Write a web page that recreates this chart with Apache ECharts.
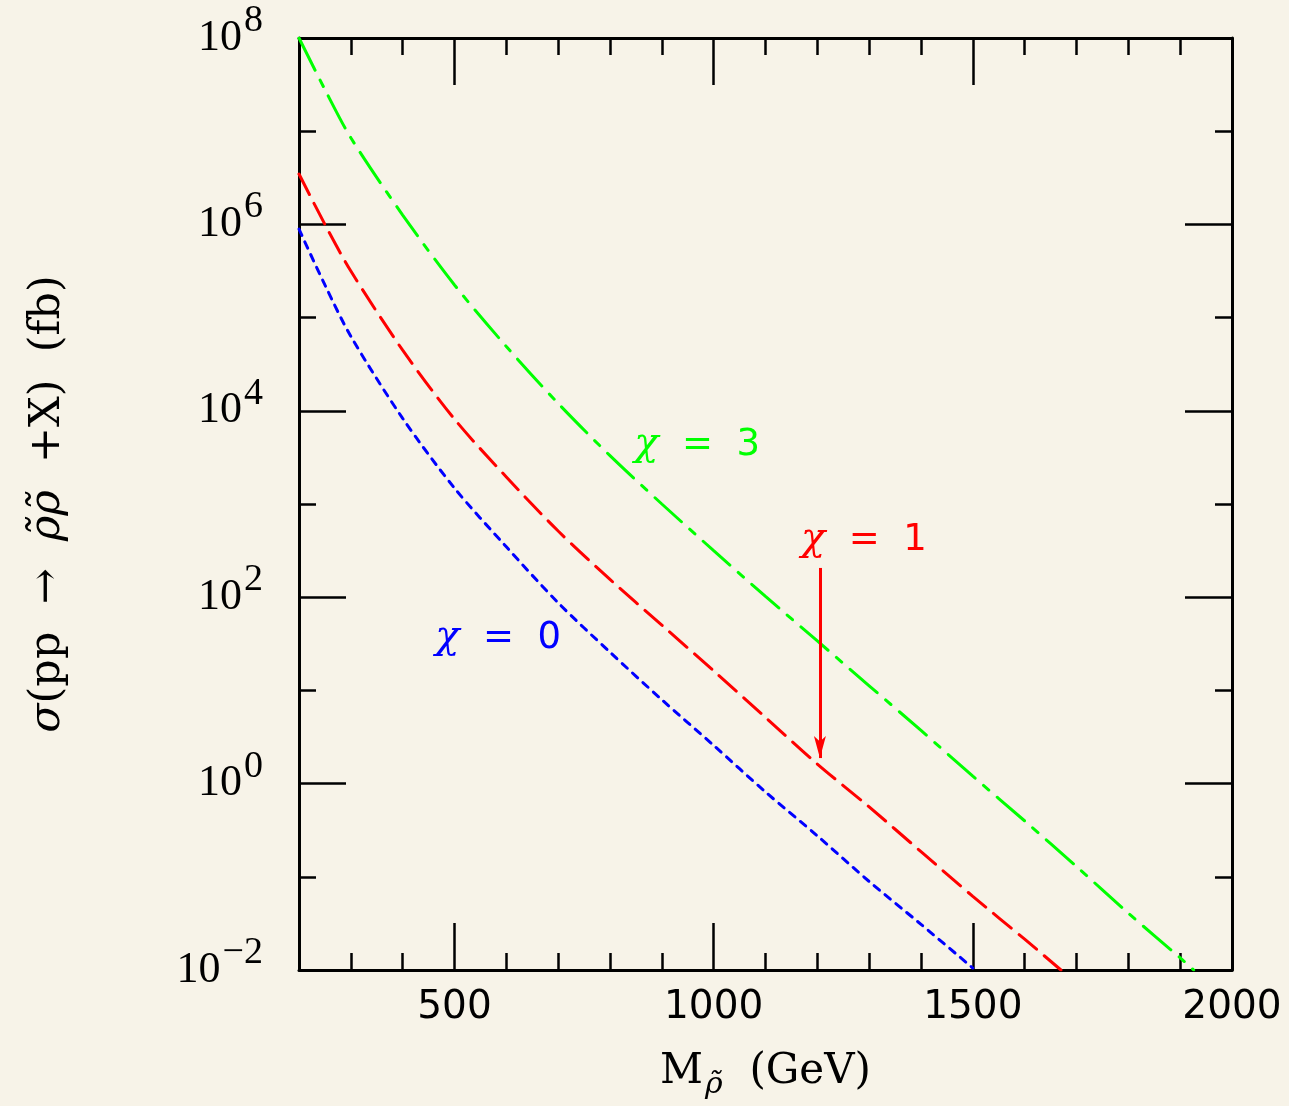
<!DOCTYPE html>
<html>
<head>
<meta charset="utf-8">
<script src="https://cdn.jsdelivr.net/npm/echarts@6/dist/echarts.min.js"></script>
<style>
html,body{margin:0;padding:0;background:#f7f3e8;}
#chart{width:1289px;height:1106px;}
</style>
</head>
<body>
<div id="chart"></div>
<script>
// ---- data (M in GeV, sigma in fb) ----
const massChi3 = [200, 250, 300, 400, 500, 600, 700, 800, 900, 1000, 1100, 1200, 1300, 1400, 1500, 1600, 1700, 1800, 1900, 1926];
const sigmaChi3 = [1.0e8, 2.8e7, 8.5e6, 1.26e6, 2.24e5, 4.9e4, 1.2e4, 3.3e3, 1.0e3, 316, 102, 33.9, 11.2, 3.72, 1.20, 0.398, 0.129, 0.0407, 0.0135, 0.0100];

const massChi1 = [200, 250, 300, 400, 500, 600, 700, 800, 900, 1000, 1100, 1200, 1300, 1400, 1500, 1600, 1670];
const sigmaChi1 = [3.47e6, 1.0e6, 3.16e5, 4.47e4, 8.13e3, 1.95e3, 513, 155, 50.1, 16.2, 5.13, 1.62, 0.562, 0.186, 0.0617, 0.0214, 0.0100];

const massChi0 = [200, 250, 300, 400, 500, 600, 700, 800, 900, 1000, 1100, 1200, 1300, 1400, 1500];
const sigmaChi0 = [8.9e5, 2.24e5, 6.3e4, 8.3e3, 1.48e3, 347, 87.1, 25.7, 7.94, 2.57, 0.813, 0.275, 0.0891, 0.0309, 0.0105];

const xMajorTicks = [500, 1000, 1500, 2000];
const curveChi = ['3', '1', '0'];
const labelAnchors = [[968, 4300], [1290, 411], [584, 36.5]];
const arrowFrom = [1205, 206];
const arrowTo = [1205, 1.88];

function pairs(xs, ys) { return xs.map((x, i) => [x, ys[i]]); }

const INK = '#000';
const GREEN = '#00ff00', RED = '#ff0000', BLUE = '#0000ff';

const xBase = {type: 'value', min: 200, max: 2000, splitLine: {show: false}, gridIndex: 0};
const yBase = {type: 'log', logBase: 10, min: 0.01, max: 1e8, splitLine: {show: false}, gridIndex: 0};

function expLabel(v) {
  const e = Math.round(Math.log10(v));
  const s = e < 0 ? '\u2212' + Math.abs(e) : String(e);
  return '{b|10}{s|' + s + '}';
}

function chiLabel(val) {
  return '{c|\u03c7}{n|  =  ' + val + '}';
}
function chiRich(color) {
  return {c: {fontFamily: 'DejaVu Serif', fontStyle: 'italic', fontSize: 40, color: color},
          n: {fontFamily: 'DejaVu Sans', fontSize: 37, color: color}};
}

const chart = echarts.init(document.getElementById('chart'), null, {renderer: 'canvas'});
chart.setOption({
  backgroundColor: '#f7f3e8',
  animation: false,
  grid: {left: 299, right: 57, top: 38, bottom: 136, containLabel: false},
  xAxis: [
    Object.assign({}, xBase, {
      position: 'bottom',
      axisLine: {show: true, lineStyle: {color: INK, width: 3}},
      axisTick: {show: true, inside: true, length: 47, lineStyle: {color: INK, width: 2.5}, customValues: xMajorTicks},
      axisLabel: {show: true, customValues: xMajorTicks, formatter: v => String(v), margin: 18, color: INK, fontFamily: 'DejaVu Sans', fontSize: 39},
      name: '{m|M}{r|\u03c1\u0303}{t|  (GeV)}',
      nameLocation: 'middle', nameGap: 74,
      nameTextStyle: {color: INK, fontFamily: 'DejaVu Serif', fontSize: 42,
        rich: {
          m: {fontFamily: 'DejaVu Serif', fontSize: 42, color: INK},
          r: {fontFamily: 'DejaVu Serif', fontStyle: 'italic', fontSize: 30, color: INK, padding: [26, 0, 0, 2]},
          t: {fontFamily: 'DejaVu Serif', fontSize: 42, color: INK}
        }}
    }),
    Object.assign({}, xBase, {
      position: 'bottom', interval: 100,
      axisLine: {show: false},
      axisTick: {show: true, inside: true, length: 17, lineStyle: {color: INK, width: 2.5}},
      axisLabel: {show: false}
    }),
    Object.assign({}, xBase, {
      position: 'top',
      axisLine: {show: true, lineStyle: {color: INK, width: 3}},
      axisTick: {show: true, inside: true, length: 47, lineStyle: {color: INK, width: 2.5}, customValues: xMajorTicks},
      axisLabel: {show: false}
    }),
    Object.assign({}, xBase, {
      position: 'top', interval: 100,
      axisLine: {show: false},
      axisTick: {show: true, inside: true, length: 17, lineStyle: {color: INK, width: 2.5}},
      axisLabel: {show: false}
    })
  ],
  yAxis: [
    Object.assign({}, yBase, {
      position: 'left', interval: 2,
      axisLine: {show: true, lineStyle: {color: INK, width: 3}},
      axisTick: {show: true, inside: true, length: 47, lineStyle: {color: INK, width: 2.5}},
      axisLabel: {show: true, margin: 36, formatter: expLabel,
        rich: {
          b: {fontFamily: 'Liberation Serif', fontSize: 44, color: INK, padding: [14, 0, 14, 0]},
          s: {fontFamily: 'Liberation Serif', fontSize: 38, color: INK, verticalAlign: 'top', padding: [0, 0, 0, 2]}
        }},
      name: '{g|\u03c3}{t|(pp  \u2192  }{g|\u03c1\u0303\u03c1\u0303}{t|  +X)  (fb)}',
      nameLocation: 'middle', nameGap: 230, nameRotate: 90,
      nameTextStyle: {color: INK, fontFamily: 'DejaVu Serif', fontSize: 43,
        rich: {
          g: {fontFamily: 'DejaVu Serif', fontStyle: 'italic', fontSize: 43, color: INK},
          t: {fontFamily: 'DejaVu Serif', fontSize: 43, color: INK}
        }}
    }),
    Object.assign({}, yBase, {
      position: 'left', interval: 1,
      axisLine: {show: false},
      axisTick: {show: true, inside: true, length: 17, lineStyle: {color: INK, width: 2.5}},
      axisLabel: {show: false}
    }),
    Object.assign({}, yBase, {
      position: 'right', interval: 2,
      axisLine: {show: true, lineStyle: {color: INK, width: 3}},
      axisTick: {show: true, inside: true, length: 47, lineStyle: {color: INK, width: 2.5}},
      axisLabel: {show: false}
    }),
    Object.assign({}, yBase, {
      position: 'right', interval: 1,
      axisLine: {show: false},
      axisTick: {show: true, inside: true, length: 17, lineStyle: {color: INK, width: 2.5}},
      axisLabel: {show: false}
    })
  ],
  series: [
    {
      name: '\u03c7 = 3', type: 'line', xAxisIndex: 0, yAxisIndex: 0,
      data: pairs(massChi3, sigmaChi3), showSymbol: false, smooth: 0.3,
      lineStyle: {color: GREEN, width: 3, type: [36, 11, 7, 11], cap: 'round'},
      markPoint: {
        symbol: 'circle', symbolSize: 0, silent: true,
        label: {show: true, position: 'inside', formatter: chiLabel(curveChi[0]), color: GREEN, rich: chiRich(GREEN)},
        data: [{coord: labelAnchors[0]}]
      }
    },
    {
      name: '\u03c7 = 1', type: 'line', xAxisIndex: 0, yAxisIndex: 0,
      data: pairs(massChi1, sigmaChi1), showSymbol: false, smooth: 0.3,
      lineStyle: {color: RED, width: 3, type: [23, 10], cap: 'round'},
      markPoint: {
        symbol: 'circle', symbolSize: 0, silent: true,
        label: {show: true, position: 'inside', formatter: chiLabel(curveChi[1]), color: RED, rich: chiRich(RED)},
        data: [{coord: labelAnchors[1]}]
      },
      markLine: {
        silent: true, symbol: ['none', 'arrow'], symbolSize: [9, 22],
        lineStyle: {color: RED, width: 3, type: 'solid'},
        label: {show: false},
        data: [[{coord: arrowFrom}, {coord: arrowTo}]]
      }
    },
    {
      name: '\u03c7 = 0', type: 'line', xAxisIndex: 0, yAxisIndex: 0,
      data: pairs(massChi0, sigmaChi0), showSymbol: false, smooth: 0.3,
      lineStyle: {color: BLUE, width: 3, type: [7, 7], cap: 'round'},
      markPoint: {
        symbol: 'circle', symbolSize: 0, silent: true,
        label: {show: true, position: 'inside', formatter: chiLabel(curveChi[2]), color: BLUE, rich: chiRich(BLUE)},
        data: [{coord: labelAnchors[2]}]
      }
    }
  ]
});
</script>
</body>
</html>
